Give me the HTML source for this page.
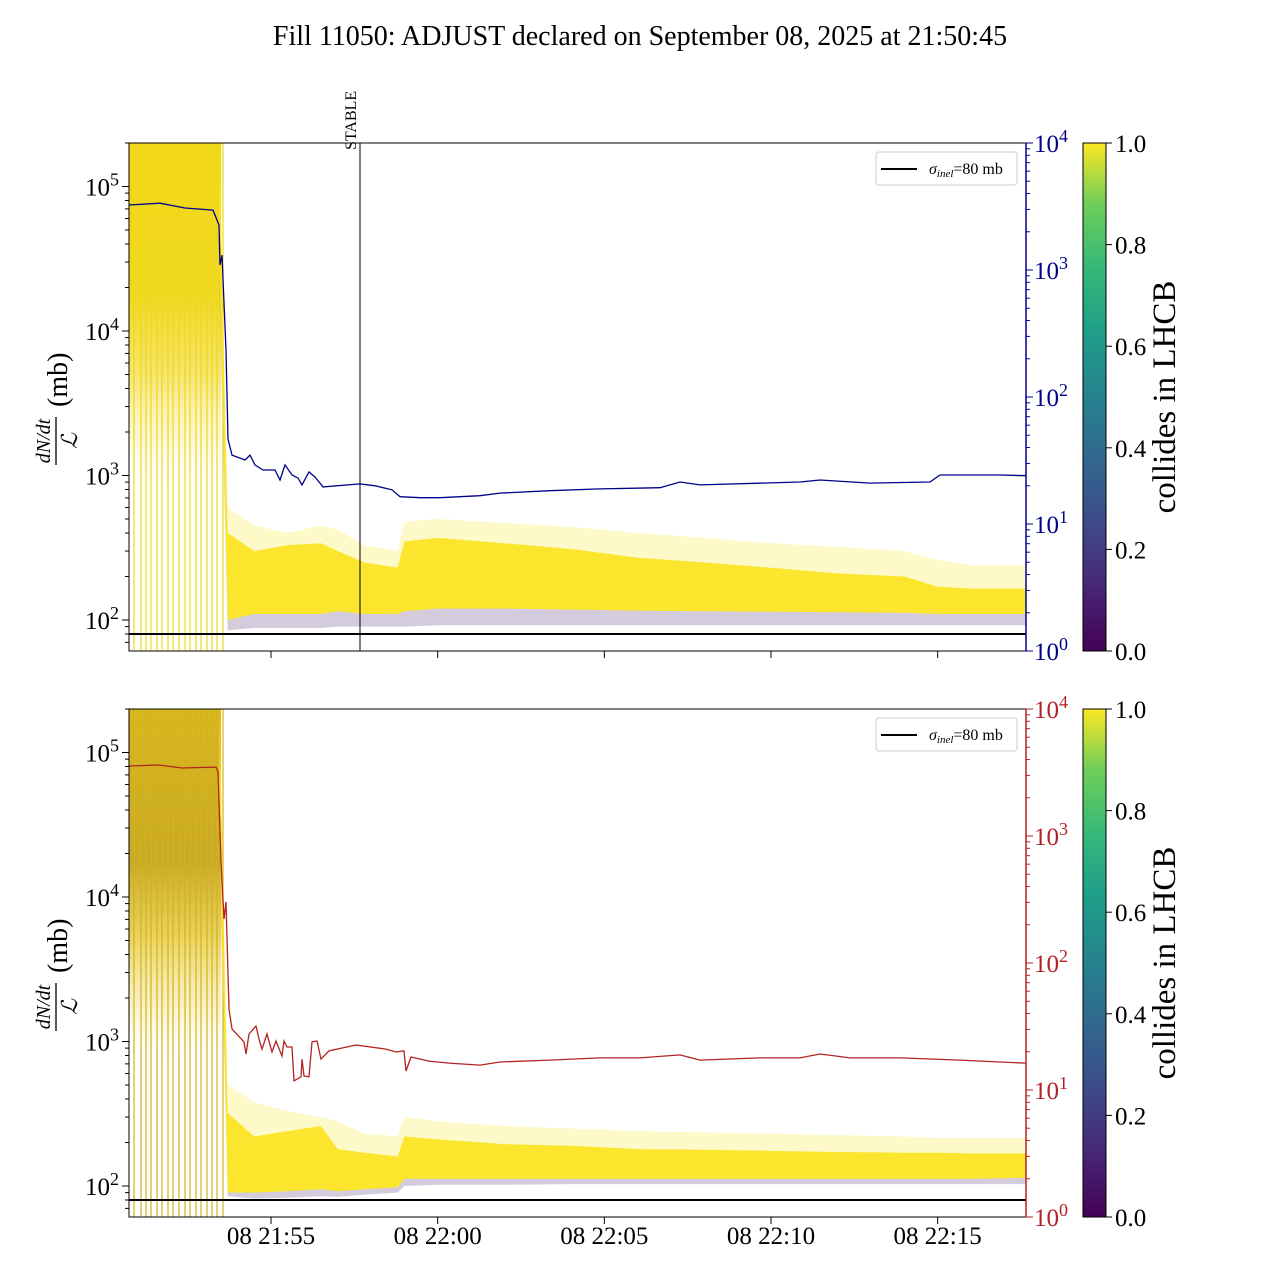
<!DOCTYPE html>
<html><head><meta charset="utf-8"><style>
html,body{margin:0;padding:0;background:#fff}
svg{display:block;font-family:"Liberation Serif",serif}
</style></head><body>
<svg id="fig" width="1280" height="1280" viewBox="0 0 1280 1280">
<defs>
<linearGradient id="viridis" x1="0" y1="1" x2="0" y2="0">
<stop offset="0" stop-color="#440154"/><stop offset="0.13" stop-color="#482878"/><stop offset="0.25" stop-color="#3e4a89"/><stop offset="0.38" stop-color="#31688e"/><stop offset="0.5" stop-color="#26828e"/><stop offset="0.63" stop-color="#1f9e89"/><stop offset="0.75" stop-color="#35b779"/><stop offset="0.88" stop-color="#6ece58"/><stop offset="1" stop-color="#fde725"/>
</linearGradient>
<linearGradient id="earlyTop" x1="0" y1="0" x2="0" y2="1">
<stop offset="0" stop-color="#f2d81a"/><stop offset="0.3" stop-color="#f0d820"/><stop offset="0.45" stop-color="#f4e050" stop-opacity="0.85"/><stop offset="0.58" stop-color="#f8ec98" stop-opacity="0.4"/><stop offset="0.68" stop-color="#fff" stop-opacity="0"/>
</linearGradient>
<linearGradient id="earlyBot" x1="0" y1="0" x2="0" y2="1">
<stop offset="0" stop-color="#d8b820"/><stop offset="0.3" stop-color="#c9a925"/><stop offset="0.45" stop-color="#e6cc40" stop-opacity="0.85"/><stop offset="0.6" stop-color="#f4e490" stop-opacity="0.4"/><stop offset="0.7" stop-color="#fff" stop-opacity="0"/>
</linearGradient>
<clipPath id="clipTop"><rect x="129" y="143" width="897" height="508"/></clipPath>
<clipPath id="clipBot"><rect x="129" y="709" width="897" height="508"/></clipPath>
</defs>
<text x="640" y="45" font-size="28" text-anchor="middle">Fill 11050: ADJUST declared on September 08, 2025 at 21:50:45</text>
<g id="root"></g>
</svg>
<script>
// time in minutes after 21:50:00
const xTickLabels = ["08 21:55","08 22:00","08 22:05","08 22:10","08 22:15"];
const xTickTimes = [5,10,15,20,25];
const stableTime = 7.67;
const sigmaInel = 80;
const bunchTimes = [0.89,1.10,1.25,1.40,1.58,1.73,1.91,2.06,2.24,2.42,2.57,2.75,2.90,3.08,3.23,3.38,3.56];
const bandT = [3.45,3.7,4.5,5.5,6.5,7.0,7.8,8.8,9.0,10,12,14,15,16,18,20,22,24,25,26,27.7];
const topUpper = [200000,600,450,400,450,420,330,300,480,500,470,440,420,400,370,340,320,300,260,240,240];
const topCore = [200000,400,300,330,340,300,250,230,350,370,340,310,290,270,250,230,210,200,170,165,165];
const topLower = [30000,100,110,110,110,115,110,110,115,120,120,118,117,116,115,114,113,112,110,110,110];
const topFloor = [20000,85,88,88,88,90,90,90,90,92,92,92,92,92,92,92,92,92,92,92,92];
const botUpper = [200000,500,380,330,300,280,230,220,300,280,260,250,245,240,235,230,225,220,215,215,215];
const botCore = [200000,320,220,240,260,180,170,160,220,210,195,190,185,180,178,175,172,170,170,168,168];
const botLower = [30000,90,90,92,95,92,95,98,112,112,112,112,112,112,112,112,112,112,112,112,114];
const botFloor = [20000,85,82,83,85,84,87,90,100,102,102,103,103,103,103,103,103,103,103,103,103];
const blueT = [0.74,1.67,2.42,3.26,3.44,3.47,3.53,3.65,3.71,3.83,4.22,4.37,4.52,4.76,5.12,5.27,5.42,5.63,5.81,5.93,6.14,6.32,6.47,6.56,7.67,8.12,8.63,8.87,9.47,10.07,11.27,11.87,13.37,14.87,16.67,17.27,17.87,20.87,21.47,22.97,24.77,25.07,26.87,27.65];
const blueV = [3250,3360,3075,2965,2260,1095,1310,234,46.7,34.9,31.9,34.9,29.2,26.6,26.6,22.2,29.2,24.3,23.0,20.3,25.7,23.4,21.0,19.6,20.7,20.0,18.6,16.4,16.1,16.1,16.7,17.5,18.3,18.9,19.3,21.4,20.3,21.4,22.2,21.0,21.4,24.3,24.3,24.0];
const redT = [0.74,1.64,2.33,3.35,3.41,3.50,3.59,3.65,3.74,3.83,4.19,4.25,4.34,4.55,4.64,4.73,4.88,5.03,5.15,5.33,5.39,5.48,5.63,5.69,5.90,5.93,5.99,6.14,6.23,6.38,6.50,6.74,7.55,8.45,8.75,8.99,9.05,9.20,9.74,10.34,11.27,11.87,13.37,14.87,16.07,17.27,17.87,19.67,20.87,21.47,22.37,23.87,25.67,26.87,27.65];
const redV = [3560,3620,3430,3490,3190,624,222,302,43.4,30.2,23.9,19.2,27.6,31.9,25.2,21.0,27.6,19.9,24.3,18.5,24.3,21.8,21.8,11.8,12.7,17.5,12.9,12.7,23.9,24.3,17.5,20.3,22.6,21.0,19.9,20.3,14.1,18.2,16.9,16.3,15.7,16.6,17.2,17.9,17.9,18.9,17.2,17.9,17.9,19.2,17.9,17.9,17.2,16.6,16.3];
const yDecadesL = [2,3,4,5];
const yDecadesR = [0,1,2,3,4];
const cbTicks = ["0.0","0.2","0.4","0.6","0.8","1.0"];

const NS="http://www.w3.org/2000/svg";
const root=document.getElementById('root');
function el(tag,attrs,parent){const e=document.createElementNS(NS,tag);for(const k in attrs)e.setAttribute(k,attrs[k]);(parent||root).appendChild(e);return e;}
const X0=129,X1=1026;
function xs(t){return 271+(t-5)*33.333;}
function yL(v,off){return 620+off-(Math.log10(v)-2)*144.5;}
function yR(v,off){return 651+off-Math.log10(v)*127;}
function poly(tt,a,b,off){let d='';for(let i=0;i<tt.length;i++)d+=(i?'L':'M')+xs(tt[i]).toFixed(1)+','+yL(a[i],off).toFixed(1);for(let i=tt.length-1;i>=0;i--)d+='L'+xs(tt[i]).toFixed(1)+','+yL(b[i],off).toFixed(1);return d+'Z';}
function line(tt,v,f,off){let d='';for(let i=0;i<tt.length;i++)d+=(i?'L':'M')+xs(tt[i]).toFixed(1)+','+f(v[i],off).toFixed(1);return d;}
function sup(parent,x,y,base,exp,color,anchor){const t=el('text',{x:x,y:y,'font-size':25,fill:color,'text-anchor':anchor},parent);t.appendChild(document.createTextNode(base));const s=el('tspan',{'font-size':18,dy:-10},t);s.textContent=exp;return t;}

function panel(off,name,upper,core,lower,floor,lineT,lineV,lineColor,showX){
  const g=el('g',{});
  
  
  const clip=el('g',{'clip-path':off?'url(#clipBot)':'url(#clipTop)'},g);
  const er=el('rect',{x:X0,y:143+off,width:xs(3.5)-X0,height:508,fill:off?'url(#earlyBot)':'url(#earlyTop)'},clip);
  
  
  bunchTimes.forEach(t=>{const l=el('line',{x1:xs(t),x2:xs(t),y1:143+off,y2:651+off,stroke:off?'#d4b21a':'#f0d818','stroke-width':1.2},clip);
    
    });
  const ou=el('path',{d:poly(bandT,upper,lower,off),fill:'#fde725','fill-opacity':0.25},clip);
  
  
  const co=el('path',{d:poly(bandT,core,lower,off),fill:'#fbe31c','fill-opacity':0.9},clip);
  
  
  const pu=el('path',{d:poly(bandT,lower,floor,off),fill:'#a08cb4','fill-opacity':0.45},clip);
  
  
  const sl=el('line',{x1:X0,x2:X1,y1:yL(sigmaInel,off),y2:yL(sigmaInel,off),stroke:'#000','stroke-width':2},g);
  
  
  const ln=el('path',{d:line(lineT,lineV,yR,off),fill:'none',stroke:lineColor,'stroke-width':1.3},clip);
  
  
  if(!off){
    const st=el('line',{x1:xs(stableTime),x2:xs(stableTime),y1:143,y2:651,stroke:'#000','stroke-width':1},g);
    
    
    const stt=el('text',{x:0,y:0,'font-size':16,transform:`translate(${xs(stableTime)-4},150) rotate(-90)`},g);
    stt.textContent='STABLE';
    
    
  }
  const fr=el('rect',{x:X0,y:143+off,width:X1-X0,height:508,fill:'none',stroke:'#000','stroke-width':1},g);
  
  
  const la=el('g',{},g);
  
  
  for(let d=1;d<=5;d++)for(let m=1;m<10;m++){const v=m*Math.pow(10,d);const y=yL(v,off);if(y<143+off||y>651+off)continue;
    el('line',{x1:X0,x2:X0-(m==1?7:4),y1:y,y2:y,stroke:'#000','stroke-width':1},la);}
  yDecadesL.forEach(d=>{const t=sup(la,119,yL(Math.pow(10,d),off)+9,'10',String(d),'#000','end');
    
    });
  const ra=el('g',{},g);
  
  
  el('line',{x1:X1,x2:X1,y1:143+off,y2:651+off,stroke:lineColor,'stroke-width':1.5},ra);
  for(let d=0;d<=4;d++)for(let m=1;m<10;m++){const v=m*Math.pow(10,d);const y=yR(v,off);if(y<142+off||y>652+off)continue;
    el('line',{x1:X1,x2:X1+(m==1?7:4),y1:y,y2:y,stroke:lineColor,'stroke-width':1},ra);}
  yDecadesR.forEach(d=>{const t=sup(ra,1034,yR(Math.pow(10,d),off)+9,'10',String(d),lineColor,'start');
    
    });
  const xa=el('g',{},g);
  
  
  xTickTimes.forEach((t,i)=>{el('line',{x1:xs(t),x2:xs(t),y1:651+off,y2:658+off,stroke:'#000'},xa);
    if(showX){const tx=el('text',{x:xs(t),y:1244,'font-size':25,'text-anchor':'middle'},xa);tx.textContent=xTickLabels[i];
      
      }});
  const yl=el('g',{transform:`translate(60,${397+off}) rotate(-90)`},g);
  
  
  const n=el('text',{x:-44,y:-10,'font-size':20,'font-style':'italic','text-anchor':'middle'},yl);n.textContent='dN/dt';
  el('line',{x1:-68,x2:-20,y1:-4,y2:-4,stroke:'#000','stroke-width':1.3},yl);
  const dn=el('text',{x:-44,y:17,'font-size':22,'font-style':'italic','text-anchor':'middle'},yl);dn.textContent='ℒ';
  const mb=el('text',{x:-10,y:7,'font-size':28},yl);mb.textContent='(mb)';
  const lg=el('g',{},g);
  
  
  el('rect',{x:876,y:152+off,width:141,height:33,rx:3,fill:'#fff',stroke:'#ccc'},lg);
  el('line',{x1:881,x2:917,y1:169+off,y2:169+off,stroke:'#000','stroke-width':2},lg);
  const lt=el('text',{x:929,y:174+off,'font-size':16},lg);
  const s1=el('tspan',{'font-style':'italic'},lt);s1.textContent='σ';
  const s2=el('tspan',{'font-style':'italic','font-size':11,dy:3},lt);s2.textContent='inel';
  const s3=el('tspan',{dy:-3},lt);s3.textContent='=80 mb';
  const cb=el('g',{},g);
  
  
  el('rect',{x:1083,y:143+off,width:23,height:508,fill:'url(#viridis)',stroke:'#000','stroke-width':1},cb);
  cbTicks.forEach((c,i)=>{const y=651+off-i*508/5;el('line',{x1:1106,x2:1112,y1:y,y2:y,stroke:'#000'},cb);
    const t=el('text',{x:1115,y:y+9,'font-size':25},cb);t.textContent=c;
    
    });
  const cl=el('text',{x:0,y:0,'font-size':33,'text-anchor':'middle',transform:`translate(1175,${397+off}) rotate(-90)`},cb);
  cl.textContent='collides in LHCB';
  
  
}
panel(0,'top-panel',topUpper,topCore,topLower,topFloor,blueT,blueV,'#00008b',false);
panel(566,'bottom-panel',botUpper,botCore,botLower,botFloor,redT,redV,'#b22222',true);
</script>
</body></html>
